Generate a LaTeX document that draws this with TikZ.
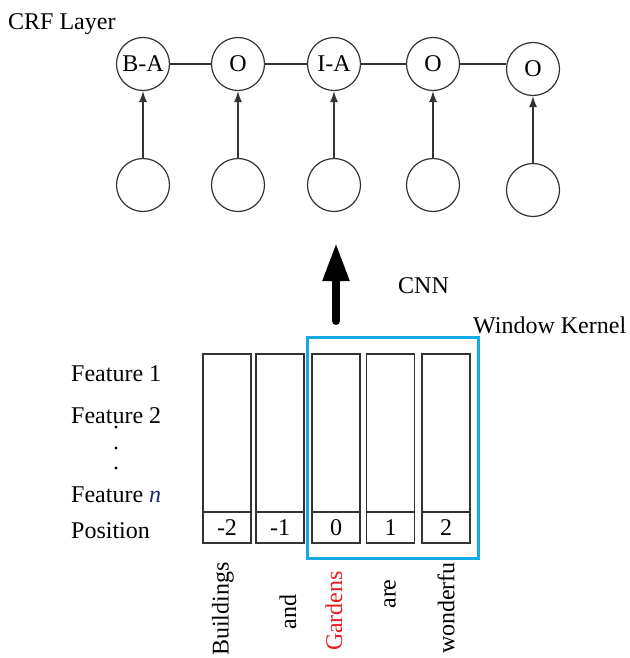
\documentclass[tikz,border=0pt]{standalone}
\usepackage{fontspec}
\setmainfont{Liberation Serif}
\usetikzlibrary{arrows.meta}
\definecolor{kblue}{RGB}{20,170,230}
\definecolor{gred}{RGB}{230,30,35}
\definecolor{nblue}{RGB}{30,40,120}
\begin{document}
\begin{tikzpicture}[x=1pt,y=-1pt,
  font=\fontsize{24}{28}\selectfont,
  every node/.style={inner sep=0pt},
  crf/.style={circle, draw=black!80, line width=1.2pt, minimum size=53pt, inner sep=0pt},
  link/.style={draw=black!80, line width=1.1pt},
  uparrow/.style={link, -{Latex[length=11pt,width=8pt]}},
  colbox/.style={draw=black!80, line width=1.2pt, minimum width=48pt, minimum height=158pt},
  poscell/.style={draw=black!80, line width=1.2pt, minimum width=48pt, minimum height=31pt},
  word/.style={rotate=90},
  lab/.style={anchor=base west}]
\useasboundingbox (0,0) rectangle (629,658);

% CRF layer
\node[lab] (crf) at (8,30) {CRF Layer};
\node[crf] (t1) at (143,64) {B-A};
\node[crf] (t2) at (238,64) {O};
\node[crf] (t3) at (334,64) {I-A};
\node[crf] (t4) at (433,64) {O};
\node[crf] (t5) at (533,69) {O};
\node[crf] (b1) at (143,185) {};
\node[crf] (b2) at (238,185) {};
\node[crf] (b3) at (334,185) {};
\node[crf] (b4) at (433,185) {};
\node[crf] (b5) at (533,190) {};
\draw[link] (t1) -- (t2);
\draw[link] (t2) -- (t3);
\draw[link] (t3) -- (t4);
\draw[link] (t4.east) -- (t4.east -| t5.west);
\foreach \i in {1,...,5} {\draw[uparrow] (b\i) -- (t\i);}

% CNN arrow
\coordinate (cnnbot) at (336,321);
\coordinate (cnntop) at (336,243);
\draw[line width=8pt, line cap=round, -{Triangle[length=38pt,width=25pt]}] (cnnbot) -- (cnntop);
\node[lab] (cnn) at (398,293) {CNN};
\node[lab] (wk) at (473,333) {Window Kernel};

% feature labels
\node[lab] (f1) at (71,381) {Feature 1};
\node[lab] (f2) at (71,423) {Feature 2};
\fill (116,427) circle (1.7pt) (116,448) circle (1.7pt) (116,468) circle (1.7pt);
\node[lab] (fn) at (71,502) {Feature \textcolor{nblue}{\textit{n}}};
\node[lab] (posl) at (71,538) {Position};

% columns
\foreach \i/\x/\v in {1/227/-2, 2/280/-1, 3/336/0, 4/390.5/1, 5/446/2} {
  \node[colbox] (c\i) at (\x,433) {};
  \node[poscell] (p\i) at (\x,527.5) {\v};
}

% window kernel
\node[draw=kblue, line width=3pt, minimum width=171pt, minimum height=221pt] (kernel) at (392.5,447.5) {};

% words
\node[word] (w1) at (223,609) {Buildings};
\node[word] (w2) at (288,612) {and};
\node[word, text=gred] (w3) at (334,611) {Gardens};
\node[word] (w4) at (390,594) {are};
\node[word] (w5) at (446,608) {wonderfu};
\end{tikzpicture}
\end{document}
